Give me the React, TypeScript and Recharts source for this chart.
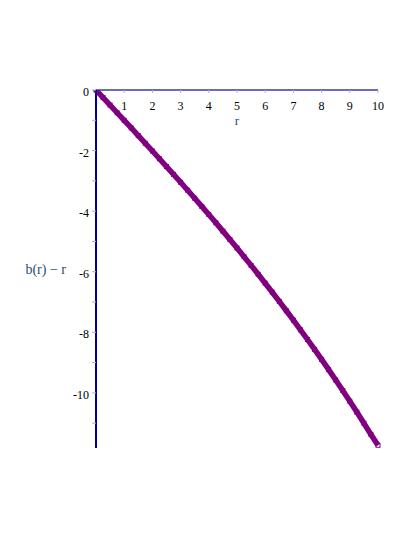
import { Line, LineChart, XAxis, YAxis, Label } from "recharts";

// r values and b(r) - r
const rValues = [
  0, 0.25, 0.5, 0.75, 1, 1.25, 1.5, 1.75, 2, 2.25, 2.5, 2.75, 3, 3.25, 3.5, 3.75, 4,
  4.25, 4.5, 4.75, 5, 5.25, 5.5, 5.75, 6, 6.25, 6.5, 6.75, 7, 7.25, 7.5, 7.75, 8, 8.25,
  8.5, 8.75, 9, 9.25, 9.5, 9.75, 10,
];
const bMinusR = [
  0, -0.25, -0.5, -0.751, -1.002, -1.253, -1.506, -1.759, -2.014, -2.27, -2.527, -2.786,
  -3.047, -3.31, -3.575, -3.842, -4.112, -4.384, -4.659, -4.938, -5.219, -5.503, -5.791,
  -6.083, -6.378, -6.677, -6.981, -7.288, -7.6, -7.917, -8.238, -8.565, -8.896, -9.233,
  -9.575, -9.922, -10.276, -10.635, -11.0, -11.372, -11.73,
];
const xTicks = [1, 2, 3, 4, 5, 6, 7, 8, 9, 10];
const yTicks = [0, -1, -2, -3, -4, -5, -6, -7, -8, -9, -10, -11];

const data = rValues.map((r, i) => ({ r, v: bMinusR[i] }));

const FONT = "'Liberation Serif', 'DejaVu Serif', serif";
const CURVE = "#800080";

function XTick(props: any) {
  const { x, y, payload } = props;
  return (
    <text x={x} y={y + 13} textAnchor="middle" fontFamily={FONT} fontSize={12} fill="#000">
      {payload.value}
    </text>
  );
}

function YTick(props: any) {
  const { x, y, payload } = props;
  if (payload.value % 2 !== 0) return <g />;
  return (
    <text x={x} y={y + 6} textAnchor="end" fontFamily={FONT} fontSize={12} fill="#000">
      {payload.value}
    </text>
  );
}

function SquareDot(props: any) {
  const { cx, cy } = props;
  if (cx == null || cy == null) return <g />;
  return (
    <rect x={cx - 2} y={cy - 2} width={4} height={4} fill="none" stroke={CURVE} strokeWidth={1} />
  );
}

export default function App() {
  return (
    <div style={{ position: "absolute", left: 0, top: 0, background: "#fff" }}>
      <LineChart
        width={415}
        height={537}
        data={data}
        margin={{ top: 90, left: 95, right: 37, bottom: 89 }}
      >
        <XAxis
          dataKey="r"
          type="number"
          domain={[0, 10]}
          ticks={xTicks}
          orientation="top"
          height={1}
          mirror
          tickSize={3}
          tickMargin={4}
          tick={<XTick />}
          axisLine={{ stroke: "#3a3aa8", strokeWidth: 1.5 }}
          tickLine={{ stroke: "#b0b0c8" }}
        >
          <Label
            value="r"
            position="bottom"
            offset={25}
            style={{ fontFamily: FONT, fontSize: 13, fill: "#1f4e7a" }}
          />
        </XAxis>
        <YAxis
          dataKey="v"
          type="number"
          domain={[-11.82, 0]}
          ticks={yTicks}
          width={1}
          tickSize={4}
          tickMargin={3}
          tick={<YTick />}
          axisLine={{ stroke: "#00009a", strokeWidth: 2 }}
          tickLine={{ stroke: "#b0b0c8" }}
          allowDataOverflow
        >
          <Label
            value="b(r) − r"
            position="left"
            offset={29}
            style={{ fontFamily: FONT, fontSize: 14, fill: "#1f4e7a", textAnchor: "end" }}
          />
        </YAxis>
        <Line
          type="linear"
          dataKey="v"
          stroke={CURVE}
          strokeWidth={5.5}
          dot={<SquareDot />}
          activeDot={false}
          isAnimationActive={false}
        />
      </LineChart>
    </div>
  );
}
